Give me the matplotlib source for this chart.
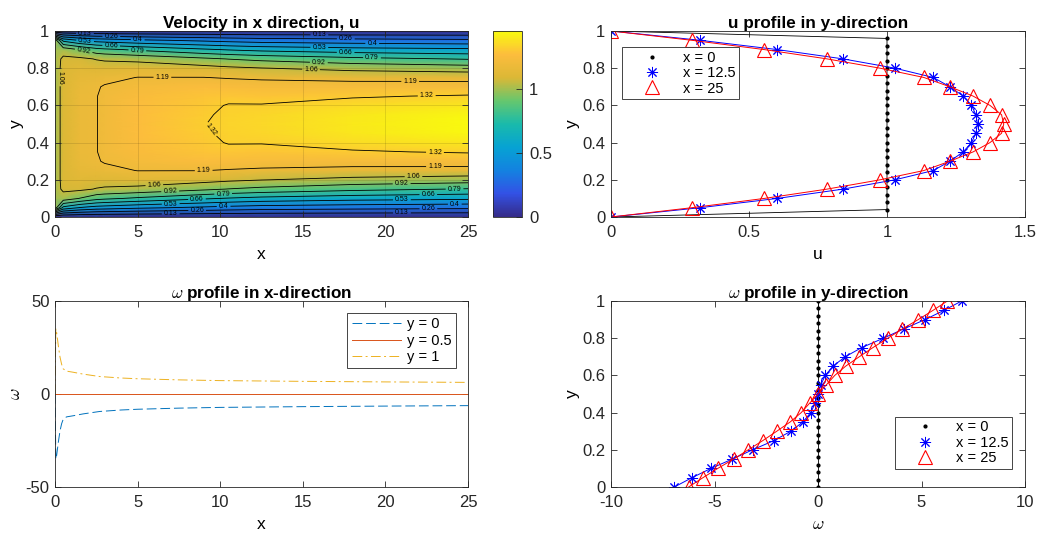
import numpy as np
import matplotlib
matplotlib.use("Agg")
import matplotlib.pyplot as plt
from matplotlib.colors import LinearSegmentedColormap
from matplotlib.lines import Line2D
from matplotlib.ticker import FuncFormatter

plt.rcParams["font.family"] = ["Liberation Sans", "DejaVu Sans"]
plt.rcParams["axes.unicode_minus"] = False
plt.rcParams["mathtext.fontset"] = "cm"

# ---- data ---------------------------------------------------------------
# u field (half channel y = 0 .. 0.5, mirrored) at a few x stations
FIELD_X = [0, 0.5, 1.5, 2.5, 3.0, 5.0, 9.0, 10.5, 12.5, 18.0, 25.0]
FIELD_Y_HALF = [0, 0.05, 0.1, 0.15, 0.2, 0.25, 0.3, 0.35, 0.4, 0.45, 0.5]
FIELD_U_HALF = [
    [0, 1.00, 1.00, 1.00, 1.00, 1.00, 1.00, 1.00, 1.00, 1.00, 1.00],
    [0, 0.62, 1.00, 1.08, 1.09, 1.09, 1.09, 1.09, 1.09, 1.09, 1.09],
    [0, 0.52, 0.92, 1.08, 1.12, 1.15, 1.16, 1.17, 1.17, 1.17, 1.17],
    [0, 0.47, 0.84, 1.05, 1.11, 1.155, 1.18, 1.185, 1.185, 1.185, 1.185],
    [0, 0.46, 0.82, 1.04, 1.11, 1.165, 1.195, 1.205, 1.205, 1.205, 1.205],
    [0, 0.42, 0.77, 1.02, 1.13, 1.19, 1.23, 1.25, 1.26, 1.265, 1.265],
    [0, 0.37, 0.68, 0.95, 1.10, 1.19, 1.26, 1.29, 1.30, 1.312, 1.318],
    [0, 0.35, 0.65, 0.92, 1.08, 1.18, 1.25, 1.295, 1.325, 1.332, 1.335],
    [0, 0.33, 0.62, 0.89, 1.06, 1.17, 1.24, 1.29, 1.325, 1.34, 1.345],
    [0, 0.31, 0.58, 0.83, 1.02, 1.155, 1.235, 1.31, 1.36, 1.39, 1.40],
    [0, 0.293, 0.556, 0.783, 0.99, 1.15, 1.24, 1.33, 1.39, 1.44, 1.452],
]
U_MAX = 1.452
LEVELS = [0.132, 0.264, 0.396, 0.528, 0.66, 0.792, 0.924, 1.056, 1.188, 1.32]

# u profiles in y
PROF_Y = [0, 0.05, 0.1, 0.15, 0.2, 0.25, 0.3, 0.35, 0.4, 0.45, 0.5,
          0.55, 0.6, 0.65, 0.7, 0.75, 0.8, 0.85, 0.9, 0.95, 1.0]
U_X125 = [0, 0.323, 0.603, 0.841, 1.029, 1.168, 1.228, 1.276, 1.306, 1.322, 1.328,
          1.322, 1.306, 1.276, 1.228, 1.168, 1.029, 0.841, 0.603, 0.323, 0]
U_X25 = [0, 0.293, 0.556, 0.783, 0.975, 1.134, 1.228, 1.312, 1.373, 1.415, 1.423,
         1.415, 1.373, 1.312, 1.228, 1.134, 0.975, 0.783, 0.556, 0.293, 0]
INLET_Y = [0, 0.04, 0.08, 0.12, 0.16, 0.2, 0.24, 0.28, 0.32, 0.36, 0.4, 0.44, 0.48,
           0.52, 0.56, 0.6, 0.64, 0.68, 0.72, 0.76, 0.8, 0.84, 0.88, 0.92, 0.96, 1.0]
U_X0 = [0] + [1] * 24 + [0]
OMEGA_X0 = [0] * 26

# omega profiles in y
OMEGA_X125 = [-6.94, -6.09, -5.17, -4.14, -3.16, -2.12, -1.31, -0.73, -0.35, -0.14, 0,
              0.14, 0.35, 0.73, 1.31, 2.12, 3.16, 4.14, 5.17, 6.09, 6.94]
OMEGA_X25 = [-6.25, -5.56, -4.84, -4.08, -3.37, -2.66, -1.99, -1.34, -0.81, -0.41, 0,
             0.41, 0.81, 1.34, 1.99, 2.66, 3.37, 4.08, 4.84, 5.56, 6.25]

# omega along x at the walls and the centreline
WALL_X = [0, 0.05, 0.1, 0.2, 0.3, 0.4, 0.5, 0.7, 1.1, 1.7, 2.7, 4, 5, 7.5, 10, 12.5, 15, 20, 25]
OMEGA_Y1 = [0, 35, 33, 26, 20, 16, 13.5, 12.3, 11.7, 10.7, 9.4, 8.6, 8.2, 7.6, 7.2, 7.0, 6.8, 6.5, 6.25]
OMEGA_Y0 = [-v for v in OMEGA_Y1]
OMEGA_Y05 = [0] * len(WALL_X)

# ---- style --------------------------------------------------------------
PARULA = LinearSegmentedColormap.from_list("parula", [
    (0.000, (0.208, 0.166, 0.529)),
    (0.125, (0.200, 0.320, 0.900)),
    (0.250, (0.076, 0.510, 0.880)),
    (0.375, (0.025, 0.637, 0.828)),
    (0.500, (0.100, 0.730, 0.670)),
    (0.625, (0.400, 0.780, 0.430)),
    (0.750, (0.860, 0.720, 0.210)),
    (0.875, (0.990, 0.740, 0.240)),
    (1.000, (0.976, 0.983, 0.054)),
])
AX_COLOR = (0.15, 0.15, 0.15)
MBLUE = (0.0, 0.447, 0.741)
MORANGE = (0.850, 0.325, 0.098)
MYELLOW = (0.929, 0.694, 0.125)
G = FuncFormatter(lambda v, p: f"{v:g}")
W, H = 1039, 536
TICK_FS = 12
LABEL_FS = 12.5
TITLE_FS = 12.3


def box(l, t, r, b):
    return [l / W, 1 - b / H, (r - l) / W, (b - t) / H]


def style(ax):
    for s in ax.spines.values():
        s.set_color(AX_COLOR)
        s.set_linewidth(0.6)
    ax.tick_params(direction="in", top=True, right=True, length=4, width=0.6,
                   colors=AX_COLOR, labelsize=TICK_FS)
    ax.tick_params(axis="x", pad=5.5)
    ax.tick_params(axis="y", pad=4)
    ax.xaxis.set_major_formatter(G)
    ax.yaxis.set_major_formatter(G)


def titles(ax, title, xlabel, ylabel):
    ax.set_title(title, fontsize=TITLE_FS, fontweight="bold", pad=2)
    ax.set_xlabel(xlabel, fontsize=LABEL_FS, labelpad=5)
    ax.set_ylabel(ylabel, fontsize=LABEL_FS, labelpad=2)


def legend(ax, handles, **kw):
    leg = ax.legend(handles=handles, fancybox=False, framealpha=1, edgecolor=AX_COLOR,
                    fontsize=10.5, borderaxespad=0, borderpad=0.25, labelspacing=0.1,
                    handlelength=3.6, handletextpad=0.3, **kw)
    leg.get_frame().set_linewidth(0.6)
    return leg


def marker_handles():
    return [
        Line2D([], [], color="k", marker=".", markersize=4, linestyle="none", label="x = 0"),
        Line2D([], [], color="b", marker=(8, 2, 0), markersize=8, markeredgewidth=0.7,
               linestyle="none", label="x = 12.5"),
        Line2D([], [], color="r", marker="^", markersize=9.5, markerfacecolor="none",
               markeredgewidth=0.8, linestyle="none", label="x = 25"),
    ]


def profile_lines(ax, xs):
    ax.plot(xs[0], INLET_Y, "k.-", markersize=4, linewidth=0.6)
    ax.plot(xs[1], PROF_Y, color="b", marker=(8, 2, 0), markersize=8,
            markeredgewidth=0.7, linewidth=0.7)
    ax.plot(xs[2], PROF_Y, color="r", marker="^", markersize=9.5, markerfacecolor="none",
            markeredgewidth=0.8, linewidth=0.7)


fig = plt.figure(figsize=(W / 100, H / 100), dpi=100)

# ---- velocity contour ---------------------------------------------------
ax = fig.add_axes(box(55, 31, 468, 217))
half = np.array(FIELD_U_HALF)
U = np.concatenate([half, half[:, -2::-1]], axis=1).T
yh = np.array(FIELD_Y_HALF)
Y = np.concatenate([yh, 1 - yh[-2::-1]])
pcm = ax.pcolormesh(FIELD_X, Y, U, shading="gouraud", cmap=PARULA, vmin=0, vmax=U_MAX)

# label spots: wall levels stacked in staggered columns, core levels placed singly
spots = {}
for i, lev in enumerate(LEVELS[:7]):
    dx = 1.6 * (i % 3)
    spots[lev] = [(7.0 + dx, 0.08), (21.0 + dx, 0.08), (1.8 + dx, 0.92), (16.0 + dx, 0.92)]
spots[LEVELS[7]] = [(0.4, 0.75), (15.5, 0.8), (6.0, 0.19), (21.7, 0.22)]
spots[LEVELS[8]] = [(6.5, 0.75), (21.5, 0.74), (9.0, 0.25), (23.0, 0.27)]
spots[LEVELS[9]] = [(9.4, 0.47), (22.5, 0.66), (23.0, 0.34)]
fmt = lambda v: f"{v:.2f}".rstrip("0")
for lev in LEVELS:
    cs = ax.contour(FIELD_X, Y, U, levels=[lev], colors="k", linewidths=0.6)
    ax.clabel(cs, manual=spots[lev], fontsize=5, fmt=fmt, inline=True, inline_spacing=2)

ax.set_xlim(0, 25)
ax.set_ylim(0, 1)
ax.set_xticks([0, 5, 10, 15, 20, 25])
ax.set_yticks([0, 0.2, 0.4, 0.6, 0.8, 1])
ax.grid(True, color="k", alpha=0.15, linewidth=0.5)
ax.set_axisbelow(False)
style(ax)
titles(ax, "Velocity in x direction, u", "x", "y")

cax = fig.add_axes(box(493, 31, 522, 217))
cb = fig.colorbar(pcm, cax=cax, ticks=[0, 0.5, 1])
cb.outline.set_linewidth(0.6)
cb.outline.set_edgecolor(AX_COLOR)
cax.tick_params(direction="in", length=4, width=0.6, colors=AX_COLOR, labelsize=TICK_FS,
                pad=5)
cax.yaxis.set_major_formatter(G)

# ---- u profile in y -----------------------------------------------------
ax = fig.add_axes(box(611, 31, 1025, 217))
profile_lines(ax, [U_X0, U_X125, U_X25])
ax.set_xlim(0, 1.5)
ax.set_ylim(0, 1)
ax.set_xticks([0, 0.5, 1, 1.5])
ax.set_yticks([0, 0.2, 0.4, 0.6, 0.8, 1])
style(ax)
titles(ax, "u profile in y-direction", "u", "y")
legend(ax, marker_handles(), loc="upper left", bbox_to_anchor=(0.027, 0.914))

# ---- omega along x ------------------------------------------------------
ax = fig.add_axes(box(55, 301, 468, 487))
ax.plot(WALL_X, OMEGA_Y0, "--", color=MBLUE, linewidth=0.7, dashes=(10, 4), label="y = 0")
ax.plot(WALL_X, OMEGA_Y05, "-", color=MORANGE, linewidth=0.7, label="y = 0.5")
ax.plot(WALL_X, OMEGA_Y1, "-.", color=MYELLOW, linewidth=0.7, dashes=(10, 3.5, 2, 3.5),
        label="y = 1")
ax.set_xlim(0, 25)
ax.set_ylim(-50, 50)
ax.set_xticks([0, 5, 10, 15, 20, 25])
ax.set_yticks([-50, 0, 50])
style(ax)
titles(ax, r"$\omega$ profile in x-direction", "x", r"$\omega$")
leg = ax.legend(fancybox=False, framealpha=1, edgecolor=AX_COLOR, fontsize=10.5,
                borderaxespad=0, borderpad=0.3, labelspacing=0.15, handlelength=3.4,
                handletextpad=0.4, loc="upper right", bbox_to_anchor=(0.971, 0.935))
leg.get_frame().set_linewidth(0.6)

# ---- omega profile in y -------------------------------------------------
ax = fig.add_axes(box(611, 301, 1025, 487))
profile_lines(ax, [OMEGA_X0, OMEGA_X125, OMEGA_X25])
ax.set_xlim(-10, 10)
ax.set_ylim(0, 1)
ax.set_xticks([-10, -5, 0, 5, 10])
ax.set_yticks([0, 0.2, 0.4, 0.6, 0.8, 1])
style(ax)
titles(ax, r"$\omega$ profile in y-direction", r"$\omega$", "y")
legend(ax, marker_handles(), loc="lower right", bbox_to_anchor=(0.969, 0.097))

fig.savefig("out.png", dpi=100)
